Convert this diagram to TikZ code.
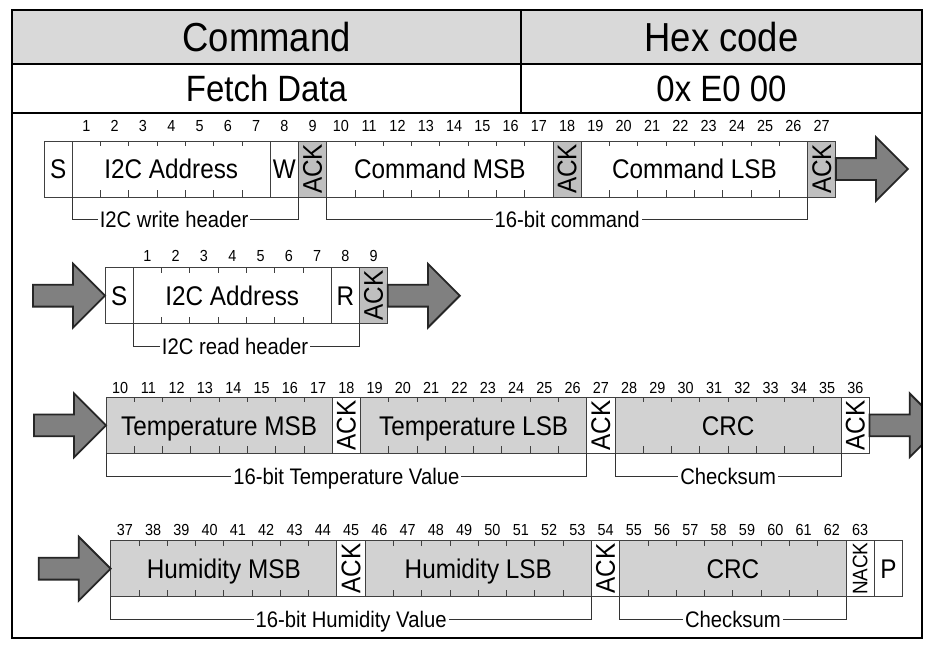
\documentclass[tikz,border=0pt]{standalone}
\usepackage{fontspec}
\setmainfont{Liberation Sans}[FakeStretch=0.9]
\usetikzlibrary{positioning,shapes.arrows}
\def\bitw{28.28}

\begin{document}
\begin{tikzpicture}[x=1pt,y=-1pt,
  bitbox/.style={draw=black!75,line width=0.9pt,minimum height=56pt,inner sep=0pt,outer sep=0pt,text height=19.5pt,text depth=0pt,font=\fontsize{27}{27}\selectfont},
  bits/.style={minimum width={#1*\bitw*1pt}},
  databox/.style={bitbox,fill=gray!35},
  ackbox/.style={bitbox,bits=1,text height=,text depth=},
  bitnum/.style={font=\fontsize{16}{16}\selectfont,inner sep=0pt,anchor=base},
  bittick/.style={draw=black!75,line width=0.9pt},
  brace/.style={draw=black!80,line width=0.9pt},
  bracelabel/.style={fill=white,inner sep=2pt,text height=16.2pt,text depth=0pt,font=\fontsize{22.5}{22.5}\selectfont},
  bigarrow/.style={single arrow,draw=black!85,line width=1.8pt,fill=gray,minimum height=72pt,inner xsep=0pt,inner ysep=10pt,single arrow head extend=21pt,outer sep=0pt},
  headcell/.style={draw,line width=2pt,outer sep=0pt,inner sep=0pt,minimum width=509pt}]
\useasboundingbox[fill=white] (0,0) rectangle (932,649);

% command table
\node[headcell,fill=gray!30,minimum height=54pt,anchor=north west,font=\fontsize{40.5}{40.5}\selectfont] (cmdhead) at (12,10) {Command};
\node[headcell,fill=gray!30,minimum height=54pt,minimum width=401pt,right=0pt of cmdhead,font=\fontsize{40.5}{40.5}\selectfont] (hexhead) {Hex code};
\node[headcell,minimum height=49pt,below=0pt of cmdhead,font=\fontsize{36.6}{36.6}\selectfont] (cmdname) {Fetch Data};
\node[headcell,minimum height=49pt,minimum width=401pt,below=0pt of hexhead,font=\fontsize{36.6}{36.6}\selectfont] (cmdcode) {0x E0 00};

% write header + command
\node[bitbox,bits=1,anchor=north west] (s1) at (44,141) {S};
\node[bitbox,bits=7,right=0pt of s1] (adr1) {I2C Address};
\node[bitbox,bits=1,right=0pt of adr1] (w1) {W};
\node[ackbox,fill=gray!50,right=0pt of w1] (ack1) {\rotatebox{90}{ACK}};
\node[bitbox,bits=8,right=0pt of ack1] (msb1) {Command MSB};
\node[ackbox,fill=gray!50,right=0pt of msb1] (ack2) {\rotatebox{90}{ACK}};
\node[bitbox,bits=8,right=0pt of ack2] (lsb1) {Command LSB};
\node[ackbox,fill=gray!50,right=0pt of lsb1] (ack3) {\rotatebox{90}{ACK}};
\node[bigarrow,right=0pt of ack3] (go1) {};
\foreach \i in {1,...,27} \node[bitnum] (num1-\i) at ({44+(\i+0.5)*\bitw},131.5) {\i};
\draw[brace] (adr1.south west) -- ++(0,22) -| node[bracelabel,pos=0.225] (lab1) {I2C write header} (w1.south east);
\draw[brace] (msb1.south west) -- ++(0,22) -| node[bracelabel,pos=0.25] (lab2) {16-bit command} (lsb1.south east);

% read header
\node[bitbox,bits=1,anchor=north west] (s2) at (105,267.7) {S};
\node[bigarrow,left=0pt of s2] (in2) {};
\node[bitbox,bits=7,right=0pt of s2] (adr2) {I2C Address};
\node[bitbox,bits=1,right=0pt of adr2] (r2) {R};
\node[ackbox,fill=gray!50,right=0pt of r2] (ack4) {\rotatebox{90}{ACK}};
\node[bigarrow,right=0pt of ack4] (go2) {};
\foreach \i in {1,...,9} \node[bitnum] (num2-\i) at ({105+(\i+0.5)*\bitw},261.7) {\i};
\draw[brace] (adr2.south west) -- ++(0,23) -| node[bracelabel,pos=0.225] (lab3) {I2C read header} (r2.south east);

% temperature
\node[databox,bits=8,anchor=north west] (tmsb) at (106,397.3) {Temperature MSB};
\node[bigarrow,left=0pt of tmsb] (in3) {};
\node[ackbox,right=0pt of tmsb] (ack5) {\rotatebox{90}{ACK}};
\node[databox,bits=8,right=0pt of ack5] (tlsb) {Temperature LSB};
\node[ackbox,right=0pt of tlsb] (ack6) {\rotatebox{90}{ACK}};
\node[databox,bits=8,right=0pt of ack6] (tcrc) {CRC};
\node[ackbox,right=0pt of tcrc] (ack7) {\rotatebox{90}{ACK}};
\begin{scope}
  \clip (12,10) rectangle (922,638);
  \node[bigarrow,right=0pt of ack7] (go3) {};
\end{scope}
\foreach \i in {10,...,36} \node[bitnum] (num3-\i) at ({106+(\i-9.5)*\bitw},393.2) {\i};
\draw[brace] (tmsb.south west) -- ++(0,23) -| node[bracelabel,pos=0.25] (lab4) {16-bit Temperature Value} (tlsb.south east);
\draw[brace] (tcrc.south west) -- ++(0,23) -| node[bracelabel,pos=0.25] (lab5) {Checksum} (tcrc.south east);

% humidity
\node[databox,bits=8,anchor=north west] (hmsb) at (110.7,540.7) {Humidity MSB};
\node[bigarrow,left=0pt of hmsb] (in4) {};
\node[ackbox,right=0pt of hmsb] (ack8) {\rotatebox{90}{ACK}};
\node[databox,bits=8,right=0pt of ack8] (hlsb) {Humidity LSB};
\node[ackbox,right=0pt of hlsb] (ack9) {\rotatebox{90}{ACK}};
\node[databox,bits=8,right=0pt of ack9] (hcrc) {CRC};
\node[ackbox,right=0pt of hcrc] (nack) {\rotatebox{90}{\fontsize{21}{21}\selectfont NACK}};
\node[bitbox,bits=1,right=0pt of nack] (p4) {P};
\foreach \i in {37,...,63} \node[bitnum] (num4-\i) at ({110.7+(\i-36.5)*\bitw},535.4) {\i};
\draw[brace] (hmsb.south west) -- ++(0,23) -| node[bracelabel,pos=0.25] (lab6) {16-bit Humidity Value} (hlsb.south east);
\draw[brace] (hcrc.south west) -- ++(0,23) -| node[bracelabel,pos=0.25] (lab7) {Checksum} (hcrc.south east);

% bit ticks
\foreach \b/\n in {adr1/6,msb1/7,lsb1/7,adr2/6,tmsb/7,tlsb/7,tcrc/7,hmsb/7,hlsb/7,hcrc/7}
  \foreach \k in {1,...,\n} {
    \draw[bittick] ([xshift={\k*\bitw*1pt}]\b.north west) -- ++(0,5);
    \draw[bittick] ([xshift={\k*\bitw*1pt}]\b.south west) -- ++(0,-7);
  }

\draw[line width=2pt] (cmdhead.north west) rectangle (922,638);
\end{tikzpicture}
\end{document}
